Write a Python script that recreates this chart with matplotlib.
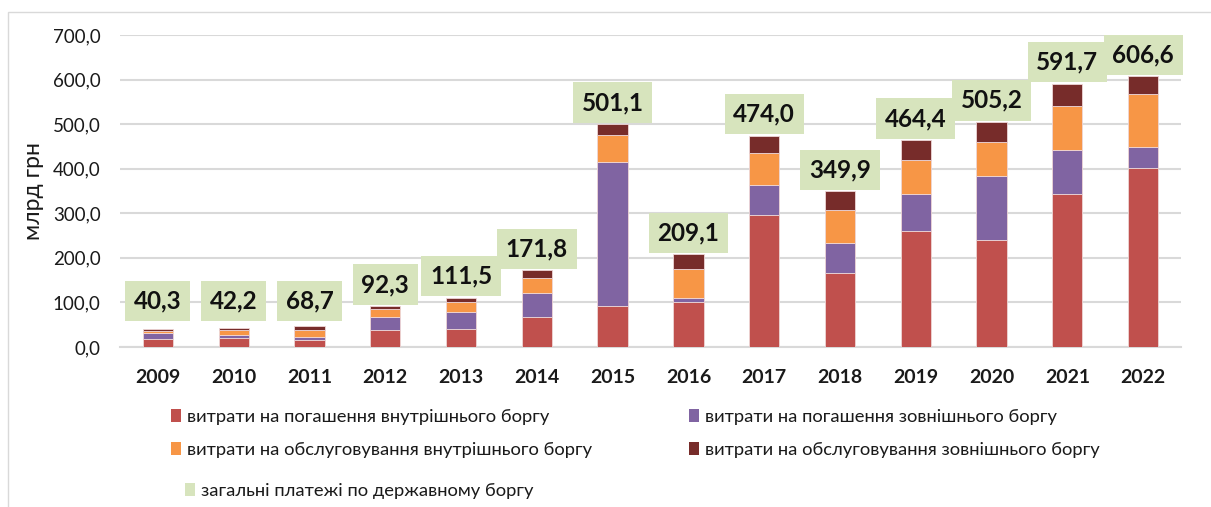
import matplotlib
matplotlib.use("Agg")
import matplotlib.pyplot as plt
from matplotlib.patches import Patch, Rectangle
import numpy as np

years = ["2009", "2010", "2011", "2012", "2013", "2014", "2015", "2016",
         "2017", "2018", "2019", "2020", "2021", "2022"]
repay_domestic = [17, 19.5, 16, 38, 41, 67, 91, 102, 296, 166, 261, 239, 343, 402]
repay_external = [14, 7, 7, 29, 37, 54, 324, 8, 67, 67, 83, 145, 98, 47]
service_domestic = [5, 11, 16, 18, 23, 34, 61, 65, 72, 75, 75, 75, 99, 118]
service_external = [4, 5, 7, 7, 10, 17, 24, 33, 39, 41, 45, 46, 51, 40]
total_labels = ["40,3", "42,2", "68,7", "92,3", "111,5", "171,8", "501,1", "209,1",
                "474,0", "349,9", "464,4", "505,2", "591,7", "606,6"]

series_names = ["витрати на погашення внутрішнього боргу",
                "витрати на погашення зовнішнього боргу",
                "витрати на обслуговування внутрішнього боргу",
                "витрати на обслуговування зовнішнього боргу"]
total_name = "загальні платежі по державному боргу"

colors = ["#C0504D", "#8064A2", "#F79646", "#772C2A"]
label_bg = "#D7E4BD"

plt.rcParams['font.family'] = ['Lato', 'Noto Sans', 'DejaVu Sans']

W, H = 1211, 507
fig = plt.figure(figsize=(W / 100, H / 100), dpi=100)
fig.patches.append(Rectangle((8 / W, -0.1), 1.2, 1 - 12 / H + 0.1, transform=fig.transFigure,
                             fill=False, edgecolor="#d9d9d9", linewidth=1.0))

ax = fig.add_axes([120 / W, 1 - 347 / H, (1181 - 120) / W, (347 - 35) / H])
x = np.arange(len(years))
bottom = np.zeros(len(years))
data = [repay_domestic, repay_external, service_domestic, service_external]
for vals, c in zip(data, colors):
    ax.bar(x, vals, width=0.4, bottom=bottom, color=c, edgecolor="#eed6d6", linewidth=0.6, zorder=3)
    bottom = bottom + np.array(vals)

ax.set_xlim(-0.5, len(years) - 0.5)
ax.set_ylim(0, 700)
ax.set_yticks(np.arange(0, 701, 100))
ax.set_yticklabels([f"{v:.1f}".replace(".", ",") for v in np.arange(0, 701, 100)],
                   fontsize=13.5, color="#1a1a1a")
ax.set_xticks(x)
ax.set_xticklabels(years, fontsize=14, fontweight="bold", color="#1a1a1a")
ax.tick_params(axis="both", length=0)
ax.tick_params(axis="x", pad=16)
ax.tick_params(axis="y", pad=14)
ax.grid(axis="y", color="#d9d9d9", linewidth=1.5, zorder=0)
for s in ["left", "right", "top"]:
    ax.spines[s].set_visible(False)
ax.spines["bottom"].set_color("#d9d9d9")
ax.spines["bottom"].set_linewidth(1.5)
ax.set_ylabel("млрд грн", fontsize=16.5, color="#1a1a1a", labelpad=6)

for i, lab in enumerate(total_labels):
    anchor = max(bottom[i], 55)
    ax.annotate(lab, xy=(i, anchor), xytext=(0, 15.5), textcoords="offset points",
                ha="center", va="center", fontsize=17.5, fontweight="bold", color="#111111",
                bbox=dict(boxstyle="square,pad=0.36", fc=label_bg, ec="none"), zorder=5)

def mk(c):
    return Patch(facecolor=c, edgecolor="none")

leg_kw = dict(frameon=False, fontsize=13.2, handlelength=0.55, handleheight=0.72,
              handletextpad=0.3, borderpad=0, borderaxespad=0, labelspacing=0.9,
              loc="upper left", labelcolor="#1a1a1a")
fig.legend([mk(colors[0]), mk(colors[2])], [series_names[0], series_names[2]],
           bbox_to_anchor=(171 / W, 1 - 409 / H), **leg_kw)
fig.legend([mk(colors[1]), mk(colors[3])], [series_names[1], series_names[3]],
           bbox_to_anchor=(689 / W, 1 - 409 / H), **leg_kw)
fig.legend([mk(label_bg)], [total_name],
           bbox_to_anchor=(185 / W, 1 - 483 / H), **leg_kw)

fig.savefig("out.png", dpi=100)
